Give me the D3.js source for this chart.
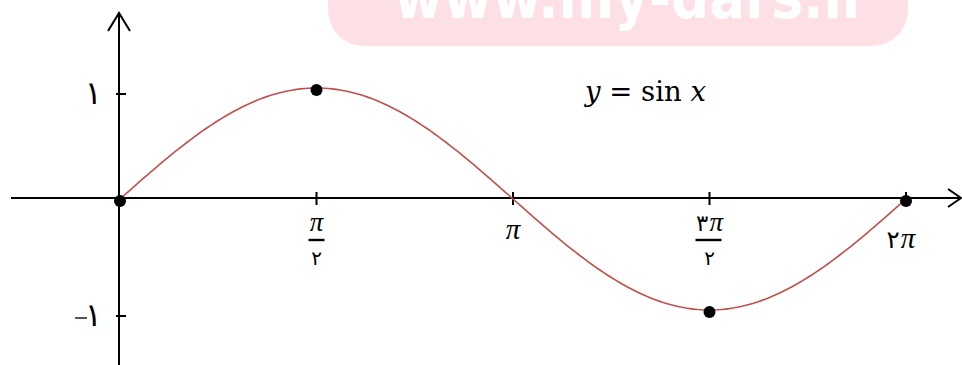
<!DOCTYPE html>
<html>
<head>
<meta charset="utf-8">
<script src="https://cdn.jsdelivr.net/npm/d3@7/dist/d3.min.js"></script>
<style>
  html, body { margin: 0; padding: 0; background: #fff; }
  svg { display: block; }
</style>
</head>
<body>
<div id="chart"></div>
<script>
// Graph of y = sin x over one period, with key points marked
const PI = Math.PI;
const domainX = [0, 2 * PI];
const domainY = [-1, 1];

// x-axis ticks: value, coefficient digit, the π symbol, denominator (empty = no fraction)
const xTickValues = [PI / 2, PI, 3 * PI / 2, 2 * PI];
const xTickCoefficients = ["", "", "۳", "۲"];
const xTickSymbol = "π";
const xTickDenominators = ["۲", "", "۲", ""];

// y-axis ticks
const yTickValues = [1, -1];
const yTickLabels = ["۱", "۱"];
const yTickNegative = [false, true];

// highlighted points (x, sin x)
const pointX = [0, PI / 2, 3 * PI / 2, 2 * PI];
const pointY = [0, 1, -1, 0];

// function being plotted
const curveFn = Math.sin;
const curveSamples = 200;

const formulaLabel = { y: "y", eq: " = ", fn: "sin ", x: "x" };
const watermarkText = "www.my-dars.ir";

const W = 962, H = 365;
const svg = d3.select("#chart").append("svg")
  .attr("width", W).attr("height", H);

const x = d3.scaleLinear().domain(domainX).range([120, 906]);
const y = d3.scaleLinear().domain(domainY).range([310, 88]);

const serif = "Liberation Serif";
const mathFont = "DejaVu Serif";
const digitFont = "DejaVu Sans";

// watermark banner
svg.append("rect")
  .attr("x", 328).attr("y", -60).attr("width", 580).attr("height", 106)
  .attr("rx", 36).attr("ry", 36)
  .attr("fill", "#fde0e5");
svg.append("text")
  .attr("x", 631).attr("y", 18)
  .attr("text-anchor", "middle")
  .attr("font-family", "DejaVu Sans")
  .attr("font-weight", "bold")
  .attr("font-size", 60)
  .attr("textLength", 474)
  .attr("lengthAdjust", "spacingAndGlyphs")
  .attr("fill", "#ffffff")
  .text(watermarkText);

const axisColor = "#000";
const y0 = y(0) - 1;
const yAxisX = 119;

// x-axis with arrow
svg.append("line")
  .attr("x1", 11).attr("x2", 961).attr("y1", y0).attr("y2", y0)
  .attr("stroke", axisColor).attr("stroke-width", 2);
svg.append("path")
  .attr("d", `M948,${y0 - 9} L961,${y0} L948,${y0 + 9}`)
  .attr("fill", "none").attr("stroke", axisColor).attr("stroke-width", 2);

// y-axis with arrow
svg.append("line")
  .attr("x1", yAxisX).attr("x2", yAxisX).attr("y1", 13).attr("y2", H)
  .attr("stroke", axisColor).attr("stroke-width", 2);
svg.append("path")
  .attr("d", `M108,31 L${yAxisX},13 L130,31`)
  .attr("fill", "none").attr("stroke", axisColor).attr("stroke-width", 2);

// x ticks and labels
const xt = svg.append("g").selectAll("g")
  .data(xTickValues.map((v, i) => ({ v, coef: xTickCoefficients[i], den: xTickDenominators[i] })))
  .join("g")
  .attr("transform", d => `translate(${x(d.v)},0)`);
xt.append("line")
  .attr("y1", y0 - 6).attr("y2", y0 + 7)
  .attr("stroke", axisColor).attr("stroke-width", 2);

function numerator(g, d, yPos, size, dx) {
  const t = g.append("text")
    .attr("x", dx).attr("y", yPos).attr("text-anchor", "middle");
  if (d.coef) {
    t.append("tspan").attr("font-family", digitFont)
      .attr("font-size", size * 0.85).text(d.coef);
    t.append("tspan").attr("dx", 1).attr("font-family", serif).attr("font-style", "italic")
      .attr("font-size", size).text(xTickSymbol);
  } else {
    t.append("tspan").attr("font-family", serif).attr("font-style", "italic")
      .attr("font-size", size).text(xTickSymbol);
  }
}

xt.each(function (d) {
  const g = d3.select(this);
  if (d.den) {
    numerator(g, d, 231, 27, 0);
    g.append("line")
      .attr("x1", d.coef ? -14 : -8).attr("x2", d.coef ? 12 : 8)
      .attr("y1", 240).attr("y2", 240)
      .attr("stroke", axisColor).attr("stroke-width", 2.4);
    g.append("text")
      .attr("y", 265).attr("text-anchor", "middle")
      .attr("font-family", digitFont)
      .attr("font-size", 20).text(d.den);
  } else {
    numerator(g, d, d.coef ? 248 : 239, 29, d.coef ? -5 : 0);
  }
});

// y ticks and labels (drawn a little below the curve's extremes)
const yt = svg.append("g").attr("transform", "translate(0,6)")
  .selectAll("g")
  .data(yTickValues.map((v, i) => ({ v, label: yTickLabels[i], neg: yTickNegative[i] })))
  .join("g")
  .attr("transform", d => `translate(0,${y(d.v)})`);
yt.append("line")
  .attr("x1", yAxisX - 3).attr("x2", yAxisX + 7)
  .attr("stroke", axisColor).attr("stroke-width", 2);
yt.append("text")
  .attr("x", 102).attr("y", 10)
  .attr("text-anchor", "end")
  .attr("font-family", digitFont).attr("font-size", 32)
  .text(d => d.label);
yt.filter(d => d.neg).append("line")
  .attr("x1", 75).attr("x2", 87).attr("y1", 2).attr("y2", 2)
  .attr("stroke", "#555").attr("stroke-width", 2);

// sine curve
const samples = d3.range(curveSamples + 1).map(i => domainX[0] + (domainX[1] - domainX[0]) * i / curveSamples);
svg.append("path")
  .datum(samples)
  .attr("d", d3.line().x(d => x(d)).y(d => y(curveFn(d))))
  .attr("fill", "none")
  .attr("stroke", "#c0504d")
  .attr("stroke-width", 1.6);

// key points
svg.append("g").attr("transform", "translate(0,2)")
  .selectAll("circle")
  .data(pointX.map((v, i) => [v, pointY[i]]))
  .join("circle")
  .attr("cx", d => x(d[0])).attr("cy", d => y(d[1]))
  .attr("r", 6).attr("fill", "#000");

// formula label
const f = svg.append("text")
  .attr("x", 585).attr("y", 101)
  .attr("font-family", mathFont).attr("font-size", 27.5);
f.append("tspan").attr("font-style", "italic").text(formulaLabel.y);
f.append("tspan").text(formulaLabel.eq);
f.append("tspan").text(formulaLabel.fn);
f.append("tspan").attr("font-style", "italic").text(formulaLabel.x);
</script>
</body>
</html>
